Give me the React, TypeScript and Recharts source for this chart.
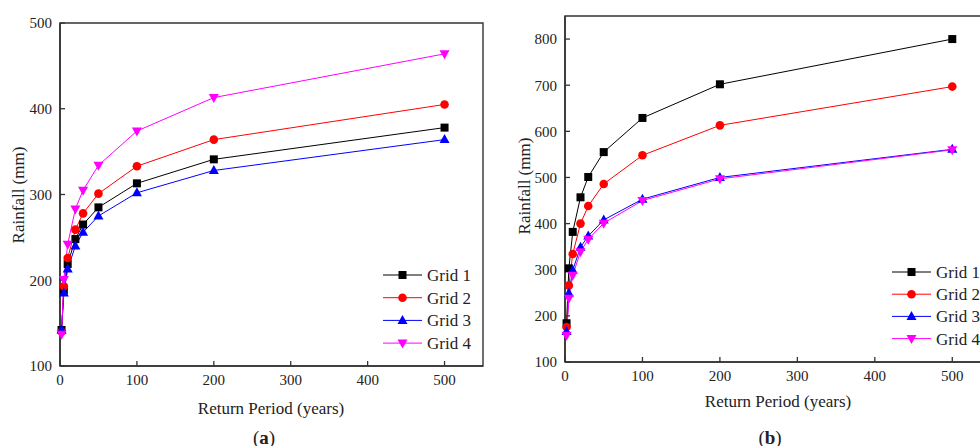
import React from 'react';
import { LineChart, Line, XAxis, YAxis, ReferenceArea } from 'recharts';

// Return periods (years)
const returnPeriods = [2, 5, 10, 20, 30, 50, 100, 200, 500];
const xTicks = [0, 100, 200, 300, 400, 500];

const gridNames = ['Grid 1', 'Grid 2', 'Grid 3', 'Grid 4'];
const gridColors = ['#000000', '#ff0000', '#0000ff', '#ff00ff'];
const gridShapes = ['square', 'circle', 'triangleUp', 'triangleDown'];

// Panel (a) rainfall (mm)
const aGrid1 = [142, 188, 219, 248, 265, 285, 313, 341, 378];
const aGrid2 = [140, 193, 226, 259, 278, 301, 333, 364, 405];
const aGrid3 = [142, 185, 213, 240, 256, 275, 302, 328, 364];
const aGrid4 = [137, 201, 242, 283, 305, 334, 374, 413, 464];
const aYTicks = [100, 200, 300, 400, 500];

// Panel (b) rainfall (mm)
const bGrid1 = [184, 303, 382, 457, 501, 555, 629, 702, 800];
const bGrid2 = [176, 266, 334, 400, 438, 486, 548, 613, 697];
const bGrid3 = [166, 249, 299, 349, 373, 408, 453, 500, 561];
const bGrid4 = [158, 238, 288, 339, 366, 401, 450, 497, 560];
const bYTicks = [100, 200, 300, 400, 500, 600, 700, 800];

const FONT = 'Liberation Serif, Times New Roman, serif';

function buildRows(series: number[][]) {
  return returnPeriods.map((rp, i) => {
    const row: Record<string, number> = { rp };
    series.forEach((s, k) => {
      row['g' + (k + 1)] = s[i];
    });
    return row;
  });
}

function Marker({ shape, color, x, y }: { shape: string; color: string; x: number; y: number }) {
  if (shape === 'square') return <rect x={x - 4} y={y - 4} width={8} height={8} fill={color} />;
  if (shape === 'circle') return <circle cx={x} cy={y} r={4.3} fill={color} />;
  if (shape === 'triangleUp')
    return <polygon points={`${x},${y - 5.5} ${x - 5},${y + 3.5} ${x + 5},${y + 3.5}`} fill={color} />;
  return <polygon points={`${x},${y + 5.5} ${x - 5},${y - 3.5} ${x + 5},${y - 3.5}`} fill={color} />;
}

const makeDot = (shape: string, color: string) => (props: any) => {
  const { cx, cy, index } = props;
  if (cx == null || cy == null) return <g key={index} />;
  return (
    <g key={'d' + index}>
      <Marker shape={shape} color={color} x={cx} y={cy} />
    </g>
  );
};

type PanelProps = {
  rows: Record<string, number>[];
  yDomain: [number, number];
  yTicks: number[];
  left: number;
  top: number;
  margin: { top: number; right: number; bottom: number; left: number };
};

function Panel({ rows, yDomain, yTicks, left, top, margin }: PanelProps) {
  const tickStyle = { fill: '#222', fontSize: 15, fontFamily: FONT };
  return (
    <div style={{ position: 'absolute', left, top, fontFamily: FONT }}>
      <LineChart width={500} height={446} data={rows} margin={margin} style={{ fontFamily: FONT }}>
        <ReferenceArea
          x1={0}
          x2={550}
          y1={yDomain[0]}
          y2={yDomain[1]}
          fill="none"
          stroke="#333"
          strokeWidth={1.4}
        />
        <XAxis
          type="number"
          dataKey="rp"
          domain={[0, 550]}
          ticks={xTicks}
          interval={0}
          height={30}
          tickSize={-5}
          tickMargin={13}
          tick={tickStyle}
          axisLine={{ stroke: '#333', strokeWidth: 1.6 }}
          tickLine={{ stroke: '#333', strokeWidth: 1.3 }}
        />
        <YAxis
          type="number"
          domain={yDomain}
          ticks={yTicks}
          interval={0}
          width={60}
          tickSize={-5}
          tickMargin={13}
          tick={tickStyle}
          axisLine={{ stroke: '#333', strokeWidth: 1.6 }}
          tickLine={{ stroke: '#333', strokeWidth: 1.3 }}
        />
        {gridNames.map((name, k) => (
          <Line
            key={name}
            name={name}
            dataKey={'g' + (k + 1)}
            stroke={gridColors[k]}
            strokeWidth={1}
            dot={makeDot(gridShapes[k], gridColors[k])}
            activeDot={false}
            isAnimationActive={false}
          />
        ))}
      </LineChart>
    </div>
  );
}

function LegendBox({ x, y, step }: { x: number; y: number; step: number }) {
  return (
    <svg
      style={{ position: 'absolute', left: x, top: y, overflow: 'visible' }}
      width={100}
      height={100}
    >
      {gridNames.map((name, k) => (
        <g key={name} transform={`translate(0, ${k * step})`}>
          <line x1={0} x2={39} y1={0} y2={0} stroke={gridColors[k]} strokeWidth={1} />
          <Marker shape={gridShapes[k]} color={gridColors[k]} x={19.5} y={0} />
          <text x={44} y={0} dy="0.35em" style={{ fontFamily: FONT, fontSize: 17 }} fill="#222">
            {name}
          </text>
        </g>
      ))}
    </svg>
  );
}

function Label({
  text,
  cx,
  cy,
  rotate = 0,
  size = 17,
  children,
}: {
  text?: string;
  cx: number;
  cy: number;
  rotate?: number;
  size?: number;
  children?: React.ReactNode;
}) {
  return (
    <div
      style={{
        position: 'absolute',
        left: cx,
        top: cy,
        transform: `translate(-50%, -50%) rotate(${rotate}deg)`,
        whiteSpace: 'nowrap',
        fontFamily: FONT,
        fontSize: size,
        color: '#222',
        lineHeight: 1,
      }}
    >
      {text}
      {children}
    </div>
  );
}

export default function App() {
  const rowsA = buildRows([aGrid1, aGrid2, aGrid3, aGrid4]);
  const rowsB = buildRows([bGrid1, bGrid2, bGrid3, bGrid4]);
  return (
    <div
      style={{
        position: 'absolute',
        left: 0,
        top: 0,
        width: 980,
        height: 446,
        overflow: 'hidden',
        background: '#fff',
        fontFamily: FONT,
      }}
    >
      <Panel
        rows={rowsA}
        yDomain={[100, 500]}
        yTicks={aYTicks}
        left={0}
        top={0}
        margin={{ top: 23, right: 17, bottom: 50, left: 0 }}
      />
      <Panel
        rows={rowsB}
        yDomain={[100, 850]}
        yTicks={bYTicks}
        left={505}
        top={0}
        margin={{ top: 16, right: 14, bottom: 54, left: 0 }}
      />
      <LegendBox x={383} y={275} step={22.7} />
      <LegendBox x={892} y={272} step={22.2} />
      <Label text="Rainfall (mm)" cx={18} cy={195} rotate={-90} />
      <Label text="Rainfall (mm)" cx={524} cy={186} rotate={-90} />
      <Label text="Return Period (years)" cx={271} cy={408} />
      <Label text="Return Period (years)" cx={778} cy={401} />
      <Label cx={264} cy={437} size={19}>
        (<b>a</b>)
      </Label>
      <Label cx={770} cy={437} size={19}>
        (<b>b</b>)
      </Label>
    </div>
  );
}
